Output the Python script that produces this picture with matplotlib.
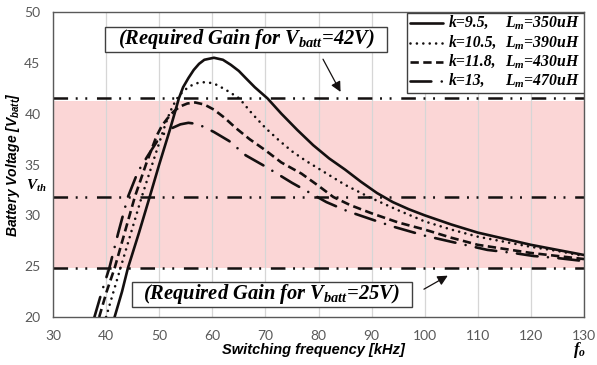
import matplotlib.pyplot as plt
from matplotlib.lines import Line2D
from matplotlib.patches import Rectangle

plt.rcParams['mathtext.fontset'] = 'custom'
plt.rcParams['mathtext.it'] = 'Liberation Serif:italic:bold'
plt.rcParams['mathtext.rm'] = 'Liberation Serif:italic:bold'
plt.rcParams['mathtext.sf'] = 'Liberation Sans:italic:bold'
plt.rcParams['lines.scale_dashes'] = False

# gain curves: switching frequency [kHz] vs battery voltage [V]
f_k95 = [41.6, 43.0, 44.1, 46.2, 48.2, 50.0, 52.0, 53.0, 53.7, 54.5, 55.5, 56.5, 57.5, 58.5, 60.3,
         62.0, 63.5, 65.0, 66.3, 68.0, 70.4, 73, 76, 79, 82, 85, 88, 91, 94, 97, 100, 105, 110,
         115, 120, 125, 130]
v_k95 = [20, 22.5, 24.8, 28.3, 31.8, 35.0, 38.4, 40.2, 41.5, 42.6, 43.5, 44.3, 44.9, 45.3, 45.5,
         45.3, 44.8, 44.2, 43.5, 42.6, 41.5, 40.0, 38.4, 36.9, 35.6, 34.5, 33.3, 32.2, 31.3, 30.6,
         30.0, 29.1, 28.3, 27.7, 27.1, 26.6, 26.1]

f_k105 = [40.0, 41.4, 42.7, 44.7, 46.7, 48.8, 50.8, 51.7, 52.5, 53.5, 54.5, 55.5, 56.5, 57.5, 58.7,
          60.0, 61.0, 62.0, 63.0, 65.1, 67.5, 70, 72.5, 75, 77.5, 80, 85, 89.5, 95, 100, 105,
          110, 115, 120, 125, 130]
v_k105 = [20, 22.5, 24.8, 28.3, 31.8, 35.2, 38.4, 39.7, 40.7, 41.6, 42.2, 42.6, 42.9, 43.05, 43.1,
          43.0, 42.8, 42.5, 42.2, 41.5, 40.0, 38.6, 37.4, 36.3, 35.4, 34.6, 33.0, 31.8, 30.5,
          29.4, 28.6, 27.9, 27.4, 26.9, 26.5, 26.0]

f_k118 = [38.7, 40.1, 41.6, 43.5, 45.4, 47.5, 49.5, 50.5, 51.5, 52.7, 53.9, 55.3, 56.8, 58.5, 60.3,
          62.3, 64.4, 67.0, 70, 73, 76.8, 80, 82.8, 86, 90, 95, 100, 105, 110, 115, 120, 125, 130]
v_k118 = [20, 22.5, 24.8, 28.3, 31.8, 35.0, 37.8, 38.8, 39.5, 40.2, 40.7, 41.0, 41.1, 40.9, 40.4,
          39.6, 38.6, 37.5, 36.4, 35.2, 34.1, 32.9, 31.8, 31.0, 30.2, 29.3, 28.6, 27.8, 27.1,
          26.7, 26.3, 26.0, 25.7]

f_k13 = [37.8, 39.2, 40.6, 42.3, 44.1, 46.0, 47.9, 50.0, 51.3, 52.5, 54.0, 55.5, 57.0, 58.4, 60.3,
         63.2, 66.3, 70, 75, 81.5, 85.5, 90, 94, 100, 105, 111.8, 116.7, 120.5, 125, 130]
v_k13 = [20, 22.5, 24.8, 28.3, 31.8, 34.3, 35.9, 37.6, 38.2, 38.6, 38.95, 39.1, 39.0, 38.7, 38.2,
         37.3, 35.9, 34.8, 33.2, 31.3, 30.4, 29.6, 28.9, 28.0, 27.4, 26.6, 26.3, 26.0, 25.8, 25.5]

k_values = ['9.5', '10.5', '11.8', '13']
lm_values = ['350', '390', '430', '470']

# required-gain levels
v_upper = 41.5
v_th = 31.8
v_lower = 24.8
band_low, band_high = 24.8, 41.2

ink = '#141010'
styles = [
    dict(lw=1.9, linestyle='-', solid_capstyle='round'),
    dict(lw=1.9, dashes=(0.01, 4.6), dash_capstyle='round'),
    dict(lw=1.9, dashes=(6.0, 3.2)),
    dict(lw=1.9, dashes=(15.0, 7.5, 0.01, 7.5), dash_capstyle='round'),
]
curves = [(f_k95, v_k95), (f_k105, v_k105), (f_k118, v_k118), (f_k13, v_k13)]

fig = plt.figure(figsize=(5.97, 3.65), dpi=100)
ax = fig.add_axes([53 / 597, 48 / 365, 531 / 597, 305 / 365])

ax.axhspan(band_low, band_high, color='#fbd6d6', lw=0, zorder=0.2)
ax.set_axisbelow(True)
ax.xaxis.grid(True, color='#d6d6d6', lw=0.9)

ref_style = dict(color=ink, lw=1.8, dashes=(10.5, 5.5, 1.4, 5.5, 1.4, 7.0), zorder=1.5)
for lvl in (v_upper, v_th, v_lower):
    ax.axhline(lvl, **ref_style)

for (f, v), st in zip(curves, styles):
    ax.plot(f, v, color=ink, zorder=3, **st)

ax.set_xlim(30, 130)
ax.set_ylim(20, 50)
ax.set_xticks(range(30, 131, 10))
ax.set_yticks(range(20, 51, 5))
ax.tick_params(length=0, labelsize=10, labelcolor='#595959', pad=9)
for lab in ax.get_xticklabels() + ax.get_yticklabels():
    lab.set_family('Lato')
for sp in ax.spines.values():
    sp.set_color('#595959')
    sp.set_linewidth(1.0)

ax.set_xlabel('Switching frequency [kHz]', family='Liberation Sans', style='italic',
              weight='bold', fontsize=10.5)
ax.xaxis.set_label_coords(0.49, -0.108)
ax.xaxis.label.set_va('center')
ax.set_ylabel(r'Battery Voltage [$\mathsf{V_{batt}}$]', family='Liberation Sans', style='italic',
              weight='bold', fontsize=10)
ax.yaxis.set_label_coords(-0.075, 0.5)
ax.yaxis.label.set_va('center')

serif = dict(family='Liberation Serif', style='italic', weight='bold')

# annotation boxes for the two required-gain levels
for (x0, x1, y0, y1), txt in [((0.098, 0.629, 0.870, 0.952), r'(Required Gain for $V_{batt}$=42V)'),
                              ((0.148, 0.676, 0.034, 0.116), r'(Required Gain for $V_{batt}$=25V)')]:
    ax.add_patch(Rectangle((x0, y0), x1 - x0, y1 - y0, transform=ax.transAxes,
                           fc='white', ec='#404040', lw=1.0, zorder=5))
    ax.text((x0 + x1) / 2, (y0 + y1) / 2, txt, transform=ax.transAxes,
            ha='center', va='center', fontsize=14.8, zorder=6, **serif)

arrow = dict(arrowstyle='-|>', color=ink, lw=0.9, mutation_scale=15)
ax.annotate('', xy=(84.4, 41.9), xytext=(80.6, 45.6), arrowprops=arrow, zorder=5)
ax.annotate('', xy=(104.8, 24.2), xytext=(99.4, 22.6), arrowprops=arrow, zorder=5)

ax.text(-0.031, 32.9, r'$V_{th}$', transform=ax.get_yaxis_transform(), ha='center',
        va='center', fontsize=11, clip_on=False)
ax.text(0.992, -0.108, r'$f_o$', transform=ax.transAxes, ha='center', va='center',
        fontsize=12, clip_on=False)

# legend drawn by hand so the L_m column lines up
ax.add_patch(Rectangle((0.666, 0.735), 0.334, 0.262, transform=ax.transAxes,
                       fc='white', ec='#404040', lw=1.0, zorder=6))
rows = [0.964, 0.899, 0.836, 0.774]
for y, st, kv, lm in zip(rows, styles, k_values, lm_values):
    ax.add_line(Line2D([0.673, 0.735], [y, y], transform=ax.transAxes, color=ink,
                       zorder=7, **st))
    ax.text(0.746, y, f'k={kv},', transform=ax.transAxes, ha='left', va='center',
            fontsize=11.3, zorder=7, **serif)
    ax.text(0.851, y, f'$L_m$={lm}uH', transform=ax.transAxes, ha='left', va='center',
            fontsize=11.3, zorder=7, **serif)

fig.savefig('out.png', dpi=100)
